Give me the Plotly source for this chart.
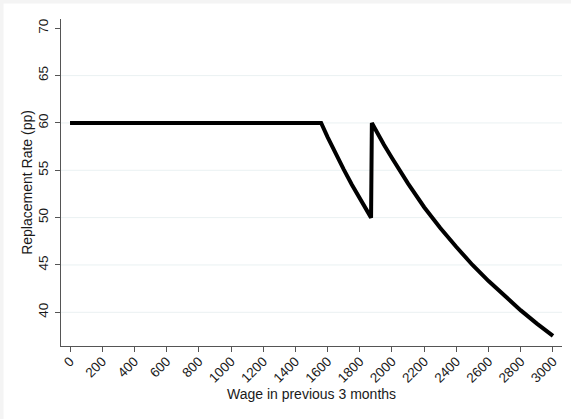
import plotly.graph_objects as go

# Data
wage = [0, 1560, 1600, 1650, 1700, 1750, 1800, 1870,
        1875, 1900, 1950, 2000, 2100, 2200, 2300, 2400, 2500, 2600, 2700, 2800, 2900, 3000]
replacement_rate = [60, 60, 58.5, 56.7, 55.1, 53.5, 52.0, 50.0,
                    60, 59.2, 57.7, 56.3, 53.6, 51.1, 48.9, 46.9, 45.0, 43.3, 41.7, 40.2, 38.8, 37.5]

x_ticks = list(range(0, 3001, 200))
y_ticks = [40, 45, 50, 55, 60, 65, 70]
grid_levels = [40, 45, 50, 55, 60, 65]

FONT = "Liberation Sans, Arial, sans-serif"
W, H = 571, 419
ML, MR, MT, MB = 61, 9, 19, 73
PW = W - ML - MR
PH = H - MT - MB

fig = go.Figure()
fig.add_trace(go.Scatter(
    x=wage, y=replacement_rate, mode="lines",
    line=dict(color="black", width=4),
    showlegend=False, hoverinfo="skip",
))

shapes = []
for g in grid_levels:
    shapes.append(dict(type="line", xref="paper", yref="y", x0=0, x1=1, y0=g, y1=g,
                       line=dict(color="#eaf1f2", width=1), layer="below"))
# faint outer border strips (left and top)
shapes.append(dict(type="rect", xref="paper", yref="paper",
                   x0=-ML / PW, x1=(-ML + 3.5) / PW, y0=-MB / PH, y1=(PH + MT) / PH,
                   fillcolor="#f4f4f4", line=dict(width=0), layer="below"))
shapes.append(dict(type="rect", xref="paper", yref="paper",
                   x0=-ML / PW, x1=(PW + MR) / PW, y0=(PH + MT - 3.5) / PH, y1=(PH + MT) / PH,
                   fillcolor="#f4f4f4", line=dict(width=0), layer="below"))

fig.update_layout(
    width=W, height=H,
    margin=dict(l=ML, r=MR, t=MT, b=MB, pad=0),
    paper_bgcolor="white", plot_bgcolor="white",
    font=dict(family=FONT, size=13, color="#1a1a1a"),
    shapes=shapes,
    xaxis=dict(
        range=[-56, 3056], tickmode="array", tickvals=x_ticks,
        ticktext=[str(v) for v in x_ticks], tickangle=-45, automargin=False,
        showgrid=False, zeroline=False, showline=True, linecolor="#555555", linewidth=1.3,
        ticks="outside", ticklen=5, tickcolor="#555555", tickwidth=1,
        tickfont=dict(size=13.5), ticklabelstandoff=-4,
        title=dict(text="Wage in previous 3 months", font=dict(size=14), standoff=3),
    ),
    yaxis=dict(
        range=[36.44, 70.98], tickmode="array", tickvals=y_ticks,
        ticktext=[str(v) for v in y_ticks], tickangle=-90, automargin=False,
        showgrid=False, zeroline=False, showline=True, linecolor="#555555", linewidth=1.3,
        ticks="outside", ticklen=5, tickcolor="#555555", tickwidth=1,
        tickfont=dict(size=13.5), ticklabelstandoff=1,
        title=dict(text="Replacement Rate (pp)", font=dict(size=14), standoff=0),
    ),
)

fig.write_html(
    "out.html",
    config={"displayModeBar": False},
    post_script="document.body.style.margin='0';document.body.style.overflow='hidden';",
)
